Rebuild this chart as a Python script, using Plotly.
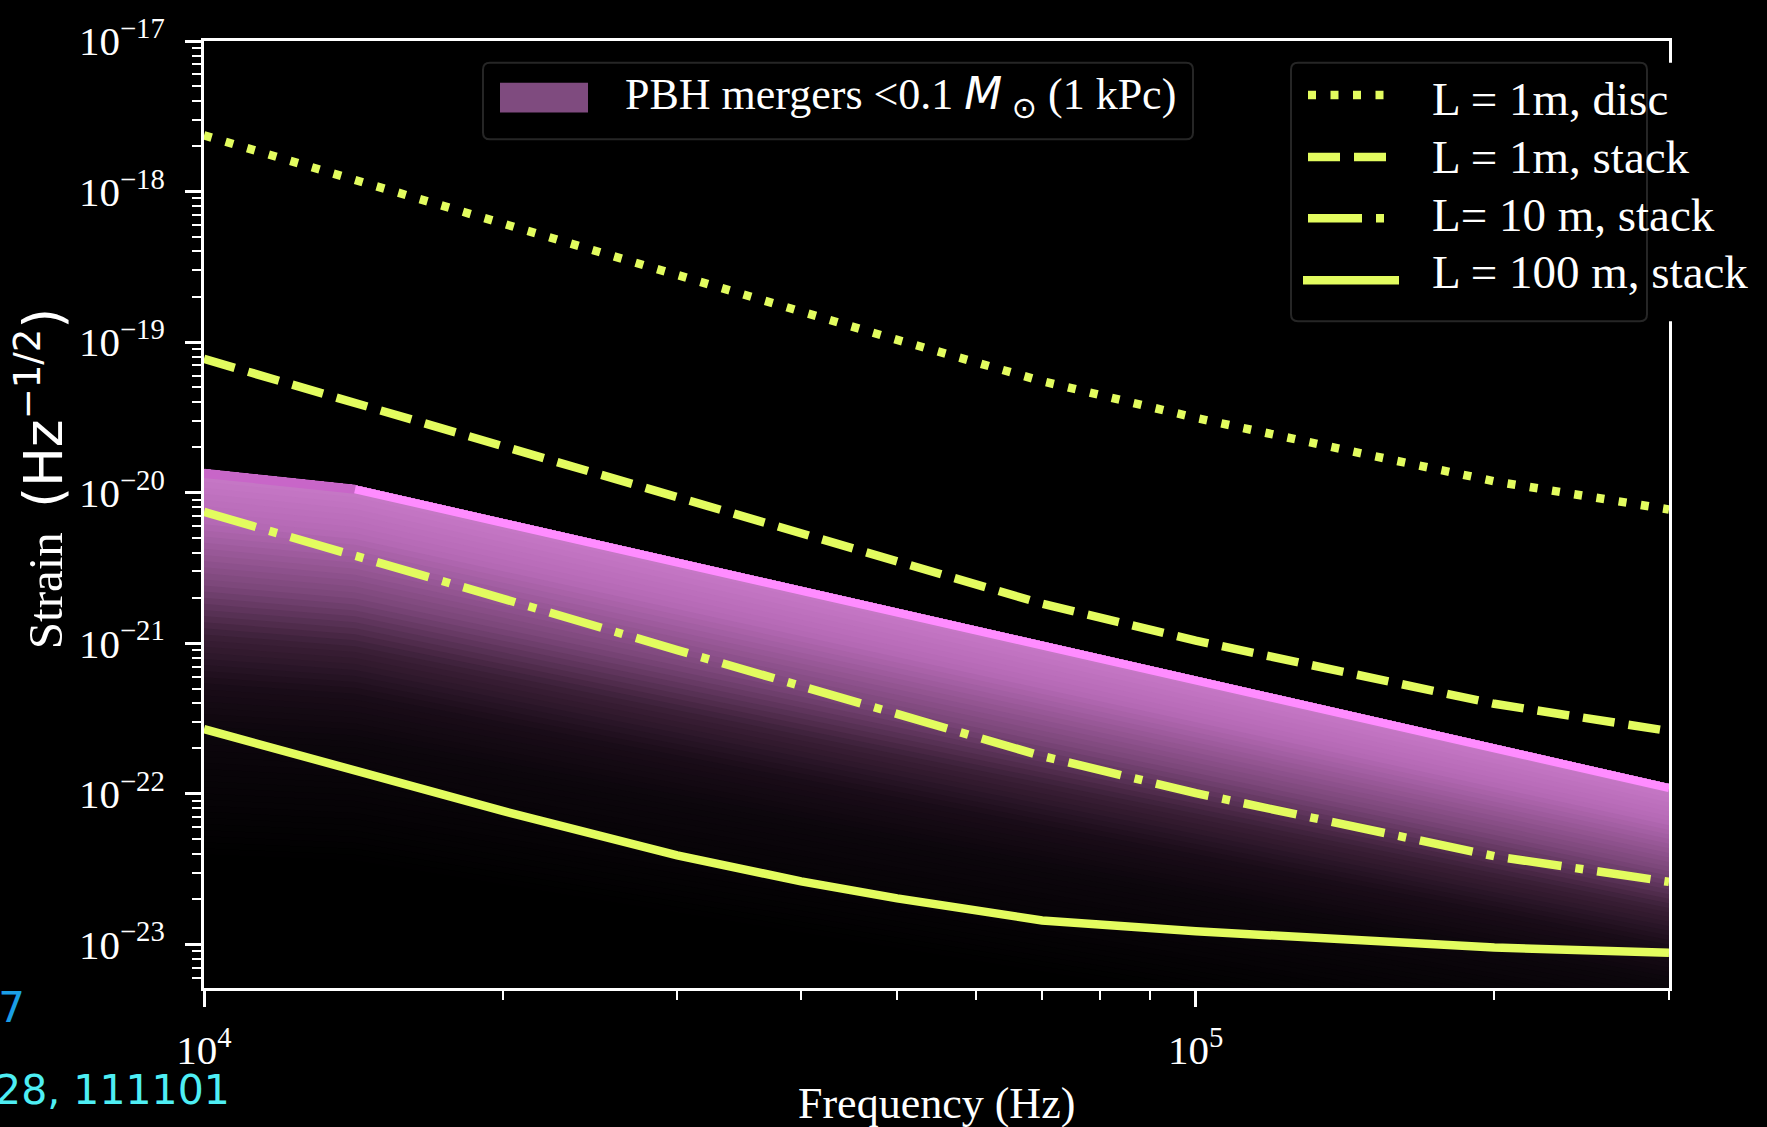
import numpy as np
import plotly.graph_objects as go

# ---------------------------------------------------------------------------
# Data
# ---------------------------------------------------------------------------
# Frequency grid of the detector sensitivity curves (Hz)
freq = [1e4, 1.5e4, 2e4, 3e4, 4e4, 5e4, 7e4, 1e5, 1.5e5, 2e5, 3e5]

# Strain sensitivity (Hz^-1/2)
h_1m_disc = [2.36e-18, 1.07e-18, 6.13e-19, 2.79e-19, 1.60e-19, 1.035e-19,
             5.50e-20, 3.14e-20, 1.77e-20, 1.19e-20, 7.73e-21]
h_1m_stack = [7.74e-20, 3.56e-20, 2.04e-20, 9.27e-21, 5.31e-21, 3.44e-21,
              1.83e-21, 1.04e-21, 5.89e-22, 3.96e-22, 2.61e-22]
h_10m_stack = [7.45e-21, 3.46e-21, 1.98e-21, 9.0e-22, 5.15e-22, 3.34e-22,
               1.78e-22, 1.01e-22, 5.72e-23, 3.85e-23, 2.6e-23]
h_100m_stack = [2.69e-22, 1.30e-22, 7.69e-23, 3.90e-23, 2.62e-23, 2.02e-23,
                1.44e-23, 1.22e-23, 1.045e-23, 9.53e-24, 8.79e-24]

# Upper envelope of the PBH merger signal band (<0.1 Msun at 1 kPc)
band_freq = [1e4, 1.42e4, 3e5]
band_top = [1.43e-20, 1.12e-20, 1.16e-22]

curve_labels = ["L = 1m, disc", "L = 1m, stack", "L= 10 m, stack", "L = 100 m, stack"]
band_label = ("PBH mergers &lt;0.1 <span style=\"font-family:DejaVu Sans\"><i>M</i></span>"
              "<sub><span style=\"font-family:DejaVu Sans;font-size:30px\"> ⊙</span></sub> (1 kPc)")

y_tick_exp = [-23, -22, -21, -20, -19, -18, -17]
x_tick_exp = [4, 5]

# ---------------------------------------------------------------------------
# Styling
# ---------------------------------------------------------------------------
W, H = 1767, 1127
L_PX, R_PX, T_PX, B_PX = 204, 1669, 35, 988
SERIF = "Liberation Serif"
YEL = "#e3fc5f"
LW = 8.5
DASH = {"dot": "8px,14.5px", "dash": "32px,14px", "dashdot": "54px,14px,8px,14px", "solid": "solid"}


def px(X):
    return (X - L_PX) / (R_PX - L_PX)


def py(Y):
    return (B_PX - Y) / (B_PX - T_PX)


fig = go.Figure()

# --- gradient band: nested fills from the upper envelope downward -----------
stops = [(0.0, (201, 122, 201)), (0.33, (182, 106, 182)), (0.77, (122, 70, 120)),
         (1.1, (60, 32, 56)), (1.43, (26, 12, 24)), (1.76, (12, 6, 12)), (2.6, (0, 0, 0))]


def ramp(d):
    for (d0, c0), (d1, c1) in zip(stops[:-1], stops[1:]):
        if d <= d1:
            t = (d - d0) / (d1 - d0)
            c = [round(a + (b - a) * t) for a, b in zip(c0, c1)]
            return "rgb(%d,%d,%d)" % tuple(c)
    return "rgb(0,0,0)"


u = np.log10(band_freq) - 4.0
depth_scale = 1.0 - 0.25 * u / np.log10(30.0)
top_log = np.log10(band_top)
N_LAYERS = 64
D_MAX = 2.6
for k in reversed(range(N_LAYERS)):
    d_lo = (k + 1) * D_MAX / N_LAYERS
    lower = 10 ** (top_log - d_lo * depth_scale)
    fig.add_trace(go.Scatter(
        x=list(band_freq) + list(band_freq[::-1]),
        y=list(band_top) + list(lower[::-1]),
        fill="toself", fillcolor=ramp((k + 0.5) * D_MAX / N_LAYERS),
        mode="lines", line=dict(width=0), hoverinfo="skip", showlegend=False))

# edge strokes along the upper envelope, set just inside the boundary
edge = [v * 10 ** (-0.027) for v in band_top]
fig.add_trace(go.Scatter(x=band_freq[:2], y=edge[:2], mode="lines",
                         line=dict(color="#c866c8", width=9), hoverinfo="skip", showlegend=False))
fig.add_trace(go.Scatter(x=band_freq[1:], y=edge[1:], mode="lines",
                         line=dict(color="#ff8cff", width=8), hoverinfo="skip", showlegend=False))

# --- sensitivity curves ------------------------------------------------------
for vals, style in [(h_1m_disc, "dot"), (h_1m_stack, "dash"),
                    (h_10m_stack, "dashdot"), (h_100m_stack, "solid")]:
    fig.add_trace(go.Scatter(x=freq, y=vals, mode="lines",
                             line=dict(color=YEL, width=LW, dash=DASH[style]),
                             hoverinfo="skip", showlegend=False))

# ---------------------------------------------------------------------------
# Axes
# ---------------------------------------------------------------------------
y_minor = [m * 10.0 ** e for e in range(-24, -17) for m in range(2, 10)]
x_minor = [m * 10.0 ** e for e in (4, 5) for m in range(2, 10) if m * 10.0 ** e <= 3e5]

axis_common = dict(type="log", showline=True, linewidth=3, linecolor="white", mirror=True,
                   showgrid=False, zeroline=False, ticks="outside", ticklen=16, tickwidth=2.5,
                   tickcolor="white", tickfont=dict(family=SERIF, size=41, color="white"),
                   tickmode="array")

fig.update_xaxes(**axis_common, range=[4, np.log10(3e5)],
                 tickvals=[10.0 ** e for e in x_tick_exp],
                 ticktext=["10<sup>%d</sup>" % e for e in x_tick_exp],
                 ticklabelstandoff=8,
                 minor=dict(ticks="outside", ticklen=9, tickwidth=2, tickcolor="white",
                            tickmode="array", tickvals=x_minor, showgrid=False))
fig.update_yaxes(**axis_common, range=[-23.29, -17],
                 tickvals=[10.0 ** e for e in y_tick_exp],
                 ticktext=["10<sup>\u2212%d</sup>" % (-e) for e in y_tick_exp],
                 ticklabelstandoff=12,
                 minor=dict(ticks="outside", ticklen=9, tickwidth=2, tickcolor="white",
                            tickmode="array", tickvals=y_minor, showgrid=False))

# ---------------------------------------------------------------------------
# Legends (drawn by hand so the sample strokes match the curve dashes)
# ---------------------------------------------------------------------------
def rrect_path(X0, Y0, X1, Y1, r):
    p = [("M", X0 + r, Y0), ("L", X1 - r, Y0), ("Q", X1, Y0, X1, Y0 + r), ("L", X1, Y1 - r),
         ("Q", X1, Y1, X1 - r, Y1), ("L", X0 + r, Y1), ("Q", X0, Y1, X0, Y1 - r),
         ("L", X0, Y0 + r), ("Q", X0, Y0, X0 + r, Y0)]
    out = []
    for seg in p:
        cmd, coords = seg[0], seg[1:]
        pts = []
        for i in range(0, len(coords), 2):
            pts.append("%.5f,%.5f" % (px(coords[i]), py(coords[i + 1])))
        out.append(cmd + " ".join(pts))
    return " ".join(out) + " Z"


shapes = []
# band legend box
shapes.append(dict(type="path", xref="paper", yref="paper", layer="above",
                   path=rrect_path(483, 57, 1193, 134, 7),
                   fillcolor="black", line=dict(color="#262626", width=2)))
shapes.append(dict(type="rect", xref="paper", yref="paper", layer="above",
                   x0=px(500), x1=px(588), y0=py(107), y1=py(77),
                   fillcolor="#7f4b7f", line=dict(width=0)))
# curve legend: background wide enough to cover the long entry, frame narrower
shapes.append(dict(type="rect", xref="paper", yref="paper", layer="above",
                   x0=px(1291), x1=px(1767), y0=py(317), y1=py(57),
                   fillcolor="black", line=dict(width=0)))
shapes.append(dict(type="path", xref="paper", yref="paper", layer="above",
                   path=rrect_path(1291, 57, 1647, 317, 7),
                   fillcolor="rgba(0,0,0,0)", line=dict(color="#262626", width=2)))

sample_rows = [(89.3, "dot", 1308, 1392), (151.7, "dash", 1308, 1388),
               (213.3, "dashdot", 1308, 1388), (275.7, "solid", 1303, 1399)]
for (yc, style, xa, xb) in sample_rows:
    shapes.append(dict(type="line", xref="paper", yref="paper", layer="above",
                       x0=px(xa), x1=px(xb), y0=py(yc), y1=py(yc),
                       line=dict(color=YEL, width=LW, dash=DASH[style])))

annotations = []
text_rows = [93, 152, 210, 267]
for label, yc in zip(curve_labels, text_rows):
    annotations.append(dict(text=label, xref="paper", yref="paper", x=px(1430), y=py(yc),
                            xanchor="left", yanchor="middle", showarrow=False,
                            font=dict(family=SERIF, size=47, color="white")))
annotations.append(dict(text=band_label, xref="paper", yref="paper", x=px(623), y=py(91),
                        xanchor="left", yanchor="middle", showarrow=False,
                        font=dict(family=SERIF, size=44, color="white")))

# axis titles
annotations.append(dict(text="Frequency (Hz)", xref="paper", yref="paper", x=0.5, y=py(1104),
                        xanchor="center", yanchor="middle", showarrow=False,
                        font=dict(family=SERIF, size=44, color="white")))
annotations.append(dict(text="Strain  <span style=\"font-family:DejaVu Sans;font-size:53px\">(Hz<sup>\u22121/2</sup>)</span>",
                        xref="paper", yref="paper", x=px(40), y=py(476), textangle=-90,
                        xanchor="center", yanchor="middle", showarrow=False,
                        font=dict(family=SERIF, size=49, color="white")))

# reference line in the lower-left corner
annotations.append(dict(text="arXiv:2010.13157", xref="paper", yref="paper", x=px(27), y=py(1008),
                        xanchor="right", yanchor="middle", showarrow=False,
                        font=dict(family="DejaVu Sans", size=42, color="#1a9ee6")))
annotations.append(dict(text="Phys. Rev. Lett. 128, 111101", xref="paper", yref="paper",
                        x=px(232), y=py(1091), xanchor="right", yanchor="middle", showarrow=False,
                        font=dict(family="DejaVu Sans", size=41, color="#4eeef4")))

fig.update_layout(
    width=W, height=H, autosize=False,
    margin=dict(l=L_PX, r=W - R_PX, t=T_PX, b=H - B_PX, pad=0),
    paper_bgcolor="black", plot_bgcolor="black",
    showlegend=False, shapes=shapes, annotations=annotations,
)

fig.write_html("out.html")
